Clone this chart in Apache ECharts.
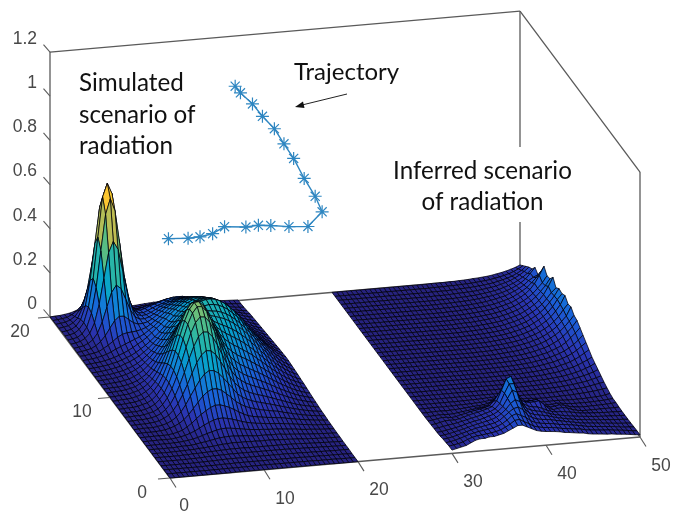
<!DOCTYPE html>
<html><head><meta charset="utf-8">
<style>html,body{margin:0;padding:0;background:#fff}#c{width:673px;height:511px}</style>
<script src="https://cdn.jsdelivr.net/npm/echarts@6/dist/echarts.min.js"></script>
</head><body><div id="c"></div>
<script>
// Heights, in thousandths of the z unit. Rows run y=0..20, columns x=start..start+20, step 0.5.
const simulatedRows = [
[0,0,0,0,0,0,0,0,0,0,0,0,0,0,1,1,1,1,1,1,1,1,1,1,1,1,1,1,1,1,1,1,1,1,1,0,0,0,0,0,0],
[0,0,0,0,0,0,0,0,0,0,0,0,1,1,1,1,1,1,2,2,2,2,2,2,2,2,2,2,2,2,2,2,1,1,1,1,1,0,0,0,0],
[0,0,0,0,0,0,0,0,0,1,1,1,2,2,2,3,3,3,3,3,3,3,3,3,3,3,3,3,3,3,2,2,2,2,1,1,1,1,1,0,0],
[0,0,0,0,0,0,0,0,1,1,2,2,3,4,5,5,5,5,5,5,5,5,5,5,5,5,5,5,4,4,4,3,3,2,2,2,1,1,1,1,1],
[0,0,0,0,0,0,0,1,1,2,3,4,5,6,6,7,7,7,7,7,7,7,7,7,7,7,7,7,6,6,5,5,4,4,3,3,2,2,1,1,1],
[0,0,0,0,0,0,1,1,3,3,4,5,6,7,8,9,10,10,10,10,9,9,9,9,9,9,9,9,9,8,8,7,6,5,4,4,3,2,2,1,1],
[0,0,0,0,0,1,1,2,3,3,6,6,9,10,13,15,16,18,18,17,18,16,17,15,16,16,15,13,13,12,11,10,8,7,6,5,4,3,3,2,2],
[0,0,0,0,0,0,1,3,3,4,7,11,14,18,22,26,28,29,29,27,26,25,22,21,21,21,19,20,19,16,15,13,12,10,8,7,6,5,4,3,2],
[0,0,0,1,1,1,2,3,5,8,12,17,24,31,37,43,47,48,46,43,40,36,33,31,29,28,26,25,24,22,20,18,16,13,11,10,8,6,5,4,3],
[0,0,1,1,1,1,1,4,7,12,19,28,39,51,61,70,75,76,72,67,60,53,47,43,39,37,34,32,30,29,26,24,21,18,15,13,10,8,7,5,4],
[0,0,1,1,1,1,2,5,10,17,30,45,64,81,96,109,117,117,111,102,91,78,67,57,52,48,45,42,40,37,35,31,27,23,20,17,14,11,9,7,5],
[0,1,2,1,2,4,6,12,19,30,45,66,92,118,144,162,172,172,163,146,128,108,93,81,73,67,61,57,53,49,46,40,35,30,26,21,17,14,11,9,7],
[0,1,2,2,2,5,9,15,25,40,62,92,129,164,198,224,238,236,222,199,174,148,122,105,94,85,78,73,67,62,56,50,44,38,32,27,22,18,14,11,8],
[1,1,2,2,4,6,11,20,32,53,81,119,164,213,259,292,310,307,289,257,220,185,155,133,117,106,97,90,84,77,70,62,55,47,40,33,27,22,18,14,10],
[1,1,3,3,5,8,14,23,40,62,98,145,200,260,314,356,376,374,350,312,268,225,189,161,143,129,119,110,102,94,85,76,67,58,49,41,33,27,21,16,13],
[1,1,3,3,5,10,15,26,44,72,112,164,227,294,356,402,426,424,399,357,308,260,220,190,168,153,141,132,122,112,102,91,80,69,59,49,40,32,26,20,15],
[1,1,3,3,6,10,18,29,49,77,120,175,241,313,378,427,454,453,429,387,336,288,248,216,195,178,166,154,143,132,120,107,94,81,69,58,47,38,30,23,18],
[1,2,4,4,7,13,19,31,50,79,121,176,242,312,377,427,455,457,436,398,348,307,269,240,219,203,190,179,166,153,139,124,109,94,80,67,55,44,35,27,21],
[1,2,4,6,8,13,20,32,51,77,117,168,229,295,356,405,433,439,423,393,355,317,286,260,243,228,216,202,189,175,158,141,124,107,91,76,62,50,40,31,24],
[1,2,5,5,8,13,20,32,48,73,108,153,207,265,321,365,394,403,396,375,347,321,297,279,264,252,239,226,211,195,177,158,139,120,102,85,70,56,45,34,26],
[2,2,5,6,8,14,20,31,46,67,97,136,182,230,278,318,347,360,361,351,338,320,305,293,283,273,261,248,231,214,195,174,153,132,112,93,77,62,49,38,29],
[2,3,5,6,9,14,19,31,43,62,87,119,158,198,239,275,302,320,329,329,325,318,312,306,299,292,280,267,250,232,212,188,165,143,121,101,83,67,53,41,31],
[2,3,5,5,8,12,18,26,38,53,77,105,138,171,205,238,266,286,303,313,315,316,316,312,310,303,294,280,264,245,224,200,176,152,129,107,88,71,56,43,33],
[2,3,5,7,9,13,18,27,38,52,71,94,121,150,180,210,238,261,280,295,306,315,320,323,322,317,307,294,276,257,234,209,184,158,134,112,92,74,59,45,35],
[2,3,5,7,10,15,20,28,38,51,67,87,110,136,164,192,219,244,266,284,300,313,323,328,329,325,316,302,284,263,240,214,188,162,138,115,94,76,60,47,36],
[2,3,5,7,10,15,19,27,35,46,61,79,98,121,145,171,196,220,243,263,280,295,306,312,314,312,303,290,274,253,230,205,180,156,132,110,90,73,58,45,34],
[2,3,5,8,11,16,20,30,37,48,59,75,91,111,133,156,179,201,226,245,263,277,288,295,298,297,288,275,258,239,218,195,171,147,126,105,86,69,55,43,33],
[2,4,6,9,12,17,22,29,38,46,58,72,86,103,121,141,163,186,208,229,247,263,273,280,282,279,271,260,244,226,206,184,162,139,118,99,81,65,52,40,31],
[3,4,7,9,13,18,24,32,40,50,62,75,88,103,121,140,158,179,200,218,234,248,258,264,266,263,257,245,231,214,195,174,153,132,112,93,77,62,49,37,29],
[3,5,7,11,16,22,31,42,51,61,70,79,88,99,114,129,147,165,184,201,216,230,240,246,248,245,239,229,215,200,181,162,142,123,104,87,71,58,46,35,27],
[4,5,9,13,18,30,43,59,75,87,92,94,96,101,108,121,136,152,169,185,199,212,221,227,229,227,221,212,199,184,168,150,132,114,96,80,66,53,42,33,25],
[3,6,10,15,26,43,67,100,132,150,149,132,116,108,109,114,126,141,156,171,183,195,204,209,211,209,204,195,183,170,154,137,121,104,89,74,61,49,39,30,23],
[4,7,11,20,35,63,111,177,242,273,256,206,155,122,110,110,116,128,142,154,165,175,184,188,190,188,184,175,165,153,139,124,109,94,80,67,55,44,35,27,21],
[4,8,13,25,46,91,173,289,403,453,415,315,212,144,112,106,108,117,128,140,149,158,165,169,171,169,165,158,149,138,125,112,98,85,72,60,50,40,32,24,19],
[5,8,13,27,55,117,231,397,559,628,571,422,268,165,115,100,99,107,117,126,133,142,149,152,154,152,149,142,133,124,113,101,88,76,65,55,44,36,28,22,17],
[5,8,14,29,58,127,254,440,620,680,631,461,286,170,113,95,92,98,107,114,121,128,134,138,139,138,134,128,121,112,102,91,80,69,59,49,40,32,26,20,15],
[5,8,13,26,54,115,228,393,554,621,562,411,254,151,99,82,78,83,89,95,101,107,112,115,116,115,112,107,101,93,85,76,67,58,49,41,33,27,21,16,13],
[3,7,11,23,42,87,167,281,393,440,399,293,185,111,73,60,56,58,61,66,69,73,77,78,79,78,77,73,69,64,58,52,46,39,33,28,23,18,15,11,9],
[3,6,9,17,31,57,103,167,227,254,231,175,116,74,53,44,40,42,44,46,49,52,54,56,56,56,54,52,49,45,41,37,32,28,24,20,16,13,10,8,6],
[2,4,7,11,21,35,56,86,114,127,117,92,65,47,37,30,29,30,31,33,34,37,38,39,40,39,38,37,34,32,29,26,23,20,17,14,11,9,7,6,4],
[0,2,3,6,9,15,23,31,40,44,42,35,29,23,19,18,18,19,19,21,23,24,26,26,26,26,26,24,23,21,19,17,15,13,11,9,8,6,5,4,3]
];
// y=0..6: all columns of the inferred surface
const inferredFrontRows = [
[15,20,25,30,40,50,55,55,60,60,65,70,80,90,100,100,90,80,70,65,62,60,58,55,50,48,45,42,40,35,32,30,28,26,25,22,20,18,15,12,10],
[15,18,22,28,38,45,50,52,55,58,62,68,78,90,105,108,95,85,72,66,62,60,58,55,50,48,45,42,40,35,32,30,28,26,25,22,20,18,15,12,10],
[12,15,20,26,33,40,45,50,53,56,60,66,76,90,108,115,105,95,78,68,63,60,58,55,50,48,45,42,38,34,30,28,26,24,22,20,18,15,12,11,9],
[10,12,16,22,28,34,40,46,50,54,58,63,72,88,105,120,125,112,85,72,64,60,58,55,50,46,42,38,34,30,27,25,23,21,19,17,15,13,11,10,8],
[6,9,13,18,23,28,34,40,45,50,55,60,68,82,100,125,140,130,95,75,66,62,58,54,48,42,38,34,30,27,24,22,20,18,16,15,13,11,10,9,7],
[4,6,10,14,18,23,29,35,40,44,50,57,63,75,95,130,165,155,105,78,68,62,58,52,44,38,34,30,27,24,21,19,17,15,13,12,11,10,9,8,7],
[3,5,9,13,16,20,25,30,35,40,45,52,58,68,90,135,175,175,115,80,68,62,60,52,42,34,30,30,27,24,20,16,14,12,11,10,9,8,8,7,7],
[2,4,9,14,15,14,18,24,30,36,40,46,52,60,85,130,180,190,125,80,68,64,65,68,50,30,22,26,28,24,16,10,7,6,6,6,7,7,7,7,8],
[1,3,7,11,10,7,10,16,20,26,30,34,38,45,65,95,130,130,85,60,52,50,52,55,40,22,15,18,22,18,11,7,5,4,4,5,5,6,7,8,10],
[0,1,3,5,4,3,4,7,10,13,16,20,22,26,38,58,75,75,50,35,28,27,28,30,22,11,7,8,11,9,6,4,3,3,3,3,4,5,6,8,10],
[0,0,1,2,2,1,2,3,4,6,8,10,11,13,18,28,35,35,25,17,13,12,13,14,10,5,3,3,4,4,3,2,2,2,2,3,4,5,7,10,15],
[0,0,0,1,1,0,1,1,2,3,3,4,5,6,8,12,14,14,10,7,5,5,5,6,4,2,1,1,2,2,3,4,4,5,7,8,10,12,15,18,22],
[0,0,0,0,0,0,0,0,0,0,1,1,2,2,3,4,5,5,4,3,2,2,2,2,1,1,2,2,3,3,4,5,6,8,10,12,14,18,22,26,30]
];
// y=6.5..20: only x=40..50 of the inferred surface lifts off the floor
const inferredRidgeRows = [
[0,0,1,1,1,2,2,3,3,4,5,6,8,10,12,15,18,22,27,33,40],
[0,1,1,1,2,2,3,3,4,5,7,8,10,12,15,19,23,28,34,41,50],
[0,1,1,1,2,2,3,4,5,6,8,10,12,14,18,22,27,33,41,49,60],
[1,1,1,1,2,3,4,5,6,7,9,12,14,17,22,27,32,40,49,59,70],
[1,1,1,2,3,3,4,6,7,9,11,14,17,20,26,31,38,47,58,72,85],
[1,1,2,2,3,4,5,7,8,10,13,16,20,24,30,37,45,55,68,84,100],
[1,1,2,2,3,4,6,7,9,11,15,18,22,27,34,41,50,62,76,94,115],
[1,1,2,3,4,5,6,8,10,13,16,20,25,30,38,46,56,69,88,108,130],
[1,1,2,3,4,6,7,9,11,14,18,22,28,33,41,51,62,78,96,118,145],
[1,2,2,3,5,6,8,10,12,15,20,24,30,36,45,56,68,83,102,125,150],
[1,2,2,3,5,6,8,10,13,16,21,25,32,38,47,58,71,87,108,130,170],
[1,2,2,3,5,7,8,11,13,17,21,26,33,40,50,61,74,91,112,140,165],
[1,2,3,3,5,7,9,11,14,17,22,27,34,41,51,63,77,94,118,145,185],
[1,2,3,4,5,7,9,11,14,18,23,28,35,42,53,65,79,96,119,150,175],
[1,2,3,4,5,7,9,11,14,18,23,28,35,42,53,65,79,97,122,148,180],
[1,2,3,4,5,7,9,11,14,18,23,28,35,42,53,65,79,96,119,145,165],
[1,2,3,3,5,7,9,11,14,17,22,28,34,41,52,64,78,95,120,155,195],
[1,2,3,3,5,7,9,11,14,17,22,27,34,41,51,63,77,94,116,140,170],
[1,2,2,3,5,7,8,11,13,17,21,26,33,40,50,61,74,91,112,135,165],
[1,2,2,3,5,6,8,10,13,16,21,26,32,38,48,59,72,90,115,150,190],
[1,2,2,3,5,6,8,10,12,15,19,24,30,36,44,55,67,81,101,122,150],
[1,1,2,3,4,5,7,9,11,14,18,22,27,32,41,50,61,74,92,105,115],
[1,1,2,3,4,5,6,8,10,13,16,19,24,29,36,44,54,66,82,105,130],
[1,1,2,2,3,4,5,7,8,11,14,17,21,25,32,39,47,58,71,86,105],
[1,1,1,2,3,4,5,6,7,9,12,15,18,22,28,34,41,51,63,77,95],
[1,1,1,1,2,3,4,5,6,8,10,12,15,18,23,28,34,41,51,63,80],
[0,1,1,1,2,2,3,4,5,6,8,10,12,15,19,23,28,34,42,52,65],
[0,1,1,1,1,2,2,3,4,5,7,8,10,12,15,19,23,28,34,41,50]
];
// Trajectory, read on the back wall y=20
const trajectoryX = [19.7,20.26,21.54,22.6,23.87,24.89,25.92,27.04,28.21,28.95,27.44,25.42,23.49,22.17,20.84,18.57,17.3,15.96,14.69,12.6];
const trajectoryZ = [0.972,0.94,0.885,0.825,0.764,0.692,0.622,0.527,0.442,0.369,0.308,0.315,0.327,0.333,0.33,0.34,0.313,0.304,0.302,0.308];
const zTicks = [0,0.2,0.4,0.6,0.8,1,1.2];
const xTicks = [0,10,20,30,40,50];
const yTicks = [0,10,20];
const parulaStops = ['#272380','#2a36b4','#1a5fd8','#0f85d6','#07a4ca','#26b5a9','#53bd86','#9abf63','#d7bb47','#fcbd37','#f9fb0e'];
const colorMax = 0.68;

function project(x,y,z){ return [170+9.4*x-6*y, 478-0.82*x-8.05*y-220.8*z]; }
function hex(c){ return [1,3,5].map(k=>parseInt(c.substr(k,2),16)); }
function parula(v){
  const t=Math.max(0,Math.min(0.9999,v/colorMax))*(parulaStops.length-1), k=Math.floor(t), f=t-k;
  const a=hex(parulaStops[k]), b=hex(parulaStops[k+1]);
  return 'rgb('+a.map((q,n)=>Math.round(q+(b[n]-q)*f)).join(',')+')';
}
const inferredRows = inferredFrontRows.concat(inferredRidgeRows.map(r=>new Array(20).fill(0).concat(r)));
function cells(rows,x0){
  const out=[];
  for(let j=0;j<40;j++)for(let i=0;i<40;i++){
    const h=[rows[j][i],rows[j][i+1],rows[j+1][i+1],rows[j+1][i]].map(v=>v/1000);
    const x=x0+i/2,y=j/2;
    out.push([x,y,h[0],h[1],h[2],h[3]]);
  }
  return out;
}
const surfaceData = cells(simulatedRows,0).concat(cells(inferredRows,30))
  .sort((a,b)=>(0.82*b[0]+8.05*b[1])-(0.82*a[0]+8.05*a[1]));

const frameSegments = [
 [[0,20,0],[0,20,1.2]],[[0,20,1.2],[50,20,1.2]],[[50,20,1.2],[50,0,1.2]],[[50,0,1.2],[50,0,0]],
 [[50,20,1.2],[50,20,0.584]],[[50,20,0.245],[50,20,0]],
 [[0,20,0],[50,20,0]],[[0,0,0],[50,0,0]],[[0,0,0],[0,20,0]],[[50,0,0],[50,20,0]]
];
const tickSegments = [];
zTicks.forEach(z=>tickSegments.push({p:[0,20,z],d:[-6.5,-7.5],t:String(z),lx:-13,ly:-13,a:'right'}));
yTicks.forEach(y=>tickSegments.push({p:[0,y,0],d:[-12,1],t:String(y),lx:y==20?-30:-28,ly:15,a:'center'}));
xTicks.forEach(x=>tickSegments.push({p:[x,0,0],d:[6,9.5],t:String(x),lx:x==0?14:21,ly:x==0?28:29,a:'center'}));

const option = {
  animation:false,
  grid:{left:0,right:0,top:0,bottom:0},
  xAxis:{type:'value',min:0,max:673,show:false},
  yAxis:{type:'value',min:0,max:511,inverse:true,show:false},
  series:[
   {type:'custom',coordinateSystem:'cartesian2d',z:1,silent:true,data:frameSegments.map((s,k)=>[k]),
    renderItem(p,api){
      const s=frameSegments[api.value(0)], a=api.coord(project(...s[0])), b=api.coord(project(...s[1]));
      return {type:'line',shape:{x1:a[0],y1:a[1],x2:b[0],y2:b[1]},style:{stroke:'#5a5a5a',lineWidth:1.3}};
    }},
   {type:'custom',coordinateSystem:'cartesian2d',z:1,silent:true,data:tickSegments.map((s,k)=>[k]),
    renderItem(p,api){
      const s=tickSegments[api.value(0)], a=api.coord(project(...s.p));
      return {type:'group',children:[
        {type:'line',shape:{x1:a[0],y1:a[1],x2:a[0]+s.d[0],y2:a[1]+s.d[1]},style:{stroke:'#5a5a5a',lineWidth:1.1}},
        {type:'text',style:{x:a[0]+s.lx,y:a[1]+s.ly,text:s.t,textAlign:s.a,textVerticalAlign:'middle',fill:'#484848',font:'17.5px "Liberation Sans"'}}
      ]};
    }},
   {type:'custom',coordinateSystem:'cartesian2d',z:2,silent:true,progressive:0,data:surfaceData,
    encode:{x:0,y:1},
    renderItem(p,api){
      const x=api.value(0),y=api.value(1),h=[api.value(2),api.value(3),api.value(4),api.value(5)];
      const pts=[[x,y,h[0]],[x+0.5,y,h[1]],[x+0.5,y+0.5,h[2]],[x,y+0.5,h[3]]].map(q=>api.coord(project(...q)));
      return {type:'polygon',shape:{points:pts},style:{fill:parula((h[0]+h[1]+h[2]+h[3])/4),stroke:'rgba(0,0,10,0.95)',lineWidth:0.8}};
    }},
   {type:'line',z:3,silent:true,symbol:'path://M0 -6L0 6M-6 0L6 0M-4.2 -4.2L4.2 4.2M-4.2 4.2L4.2 -4.2',symbolSize:13,showAllSymbol:true,
    data:trajectoryX.map((x,k)=>project(x,20,trajectoryZ[k])),
    lineStyle:{color:'#2e86c1',width:1.4},
    itemStyle:{color:'rgba(0,0,0,0)',borderColor:'#2e86c1',borderWidth:1.2}}
  ],
  graphic:{elements:[
    ...[['Simulated',79,83],['scenario of',79,115],['radiation',79,146]].map(t=>({type:'text',z:10,style:{text:t[0],x:t[1],y:t[2],textAlign:'left',textVerticalAlign:'middle',fill:'#111',font:'24.2px Lato'}})),
    {type:'text',z:10,style:{text:'Trajectory',x:294,y:72,textAlign:'left',textVerticalAlign:'middle',fill:'#111',font:'24px Lato'}},
    ...[['Inferred scenario',482.5,171],['of radiation',482.5,202]].map(t=>({type:'text',z:10,style:{text:t[0],x:t[1],y:t[2],textAlign:'center',textVerticalAlign:'middle',fill:'#111',font:'24.2px Lato'}})),
    {type:'line',z:10,shape:{x1:347,y1:94,x2:302,y2:105},style:{stroke:'#222',lineWidth:1}},
    {type:'polygon',z:10,shape:{points:[[295,107],[303,101.5],[304.5,108]]},style:{fill:'#111'}}
  ]}
};
echarts.init(document.getElementById('c'),null,{renderer:'canvas'}).setOption(option);
</script>
</body></html>
